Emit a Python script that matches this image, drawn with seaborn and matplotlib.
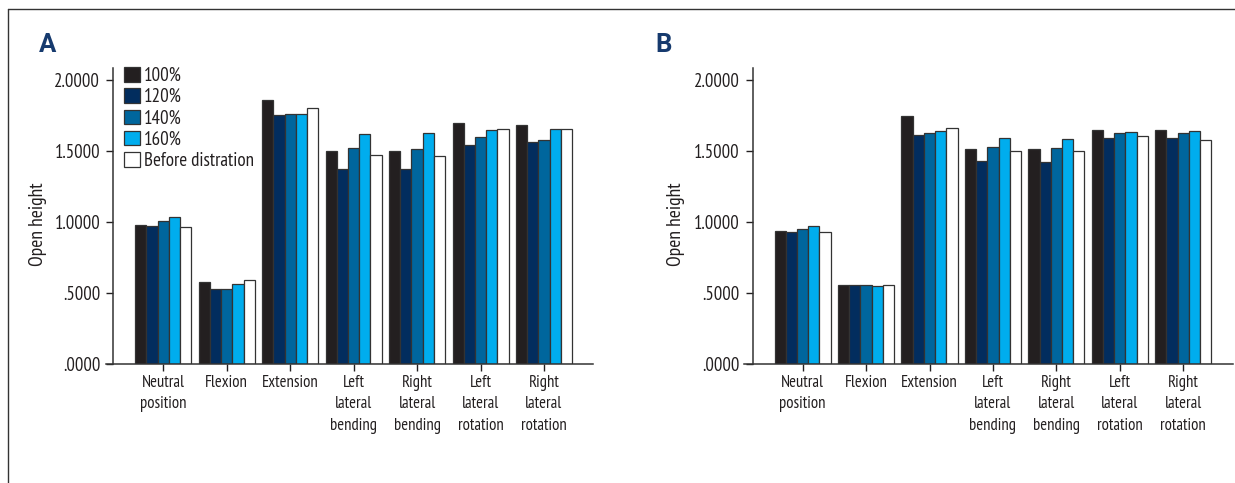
import matplotlib
matplotlib.use("Agg")
import matplotlib.pyplot as plt
import seaborn as sns
import pandas as pd
from matplotlib.lines import Line2D
from matplotlib import font_manager
from matplotlib.textpath import TextPath
from matplotlib.font_manager import FontProperties

categories = ["Neutral\nposition", "Flexion", "Extension", "Left\nlateral\nbending",
              "Right\nlateral\nbending", "Left\nlateral\nrotation", "Right\nlateral\nrotation"]
conditions = ["100%", "120%", "140%", "160%", "Before distration"]

values_a = {
    "100%":              [0.977, 0.577, 1.857, 1.498, 1.502, 1.697, 1.685],
    "120%":              [0.970, 0.530, 1.755, 1.371, 1.376, 1.544, 1.561],
    "140%":              [1.008, 0.530, 1.762, 1.519, 1.512, 1.596, 1.580],
    "160%":              [1.038, 0.567, 1.762, 1.622, 1.624, 1.646, 1.655],
    "Before distration": [0.963, 0.595, 1.800, 1.472, 1.463, 1.655, 1.655],
}
values_b = {
    "100%":              [0.937, 0.556, 1.749, 1.514, 1.514, 1.650, 1.650],
    "120%":              [0.932, 0.556, 1.615, 1.427, 1.423, 1.591, 1.591],
    "140%":              [0.949, 0.556, 1.627, 1.526, 1.521, 1.627, 1.627],
    "160%":              [0.973, 0.549, 1.643, 1.594, 1.587, 1.634, 1.641],
    "Before distration": [0.932, 0.560, 1.660, 1.500, 1.502, 1.608, 1.580],
}
yticks = [0.0, 0.5, 1.0, 1.5, 2.0]
ytick_labels = [".0000", ".5000", "1.0000", "1.5000", "2.0000"]

palette = ["#231f20", "#022d5e", "#00669d", "#00adee", "#ffffff"]

sns.set_theme(style="white")
names = {f.name for f in font_manager.fontManager.ttflist}
fam = "DejaVu Sans"
for cand in ["PT Sans Narrow", "Roboto Condensed", "Fira Sans Condensed", "Open Sans Condensed",
             "Liberation Sans Narrow"]:
    if cand in names:
        fam = cand
        break
plt.rcParams["font.family"] = [fam, "DejaVu Sans"]
FP = FontProperties(family=fam)
PX = 100 / 72.0


def size_for_width(s, target_px):
    ext = TextPath((0, 0), s, size=10, prop=FP).get_extents()
    return 10 * target_px / (ext.width * PX)


fs_tick = size_for_width("1.5000", 43.3)
fs_cat = (size_for_width("Extension", 55) + size_for_width("Neutral", 41)) / 2
fs_ylab = size_for_width("Open height", 82)
fs_leg = size_for_width("Before distration", 107.5)

txt = "#231f20"
fig = plt.figure(figsize=(12.35, 4.83), dpi=100)
W, H = 1235, 483
TOP, BOT = 68.3, 364.3
renderer = fig.canvas.get_renderer()


def lp_metrics(size):
    w, h, d = renderer.get_text_width_height_descent("lp", FontProperties(family=fam, size=size),
                                                     ismath=False)
    return h, d


h_cat, d_cat = lp_metrics(fs_cat)
cat_linespacing = (21.5 - d_cat) / (h_cat - d_cat)


def make_df(vals):
    rows = []
    for c in conditions:
        for cat, v in zip(categories, vals[c]):
            rows.append({"category": cat, "value": v, "condition": c})
    return pd.DataFrame(rows)


def panel(left_px, right_px, x0_px, spine_px, label_px, vals, letter, letter_x, legend):
    step = 63.45
    ax = fig.add_axes([left_px / W, (H - BOT) / H, (right_px - left_px) / W, (BOT - TOP) / H])
    df = make_df(vals)
    sns.barplot(data=df, x="category", y="value", hue="condition", hue_order=conditions,
                order=categories, palette=palette, width=0.883, edgecolor="#333333",
                linewidth=0.9, ax=ax, legend=legend, saturation=1)
    for s in ["top", "right"]:
        ax.spines[s].set_visible(False)
    for s in ["left", "bottom"]:
        ax.spines[s].set_color("#333333")
        ax.spines[s].set_linewidth(1.1)
    ax.spines["left"].set_position(("data", (spine_px - x0_px) / step))
    ax.set_xlim((left_px - x0_px) / step, (right_px - x0_px) / step)
    ax.set_ylim(0, (BOT - TOP) / 142.15)
    ax.set_yticks(yticks)
    ax.set_yticklabels(ytick_labels)
    ax.tick_params(axis="x", labelsize=fs_cat, colors=txt, length=5.3, width=1, direction="out",
                   pad=2.3, bottom=True)
    ax.tick_params(axis="y", labelsize=fs_tick, length=5.2, width=1, direction="out", pad=4.2,
                   left=True, colors=txt)
    for lab in ax.get_xticklabels():
        lab.set_linespacing(cat_linespacing)
        lab.set_color(txt)
    ax.set_xlabel("")
    ax.set_ylabel("Open height", fontsize=fs_ylab, color=txt)
    ax.yaxis.set_label_coords((label_px - left_px) / (right_px - left_px), (BOT - 224) / (BOT - TOP))
    fig.text(letter_x / W, 1 - 52 / H, letter, fontsize=18.5, fontweight="bold", color="#163a6e",
             va="baseline", ha="left", family=["Roboto", "DejaVu Sans"])
    if legend:
        handles, labels = ax.get_legend_handles_labels()
        em = fs_leg * PX
        h_leg, d_leg = lp_metrics(fs_leg)
        hh = 15.3 / em
        lsp = (21.25 - max(h_leg, hh * em)) / em
        ax.legend(handles, labels, loc="upper left", bbox_to_anchor=(124.3 / W, 1 - 67.0 / H),
                  bbox_transform=fig.transFigure, frameon=False,
                  fontsize=fs_leg, handlelength=15.7 / em, handleheight=hh,
                  handletextpad=4.0 / em, labelspacing=lsp, borderpad=0, borderaxespad=0)
        for t in ax.get_legend().get_texts():
            t.set_color(txt)
    return ax


panel(106, 593.3, 163.3, 113.3, 47, values_a, "A", 39, True)
panel(744.3, 1232.7, 802.6, 752.7, 685, values_b, "B", 655, False)

fig.add_artist(Line2D([8.3 / W, 8.3 / W], [0, 1 - 9.3 / H], color="#333333", lw=1,
                      transform=fig.transFigure))
fig.add_artist(Line2D([8.3 / W, 1], [1 - 9.3 / H, 1 - 9.3 / H], color="#333333", lw=1,
                      transform=fig.transFigure))

fig.savefig("out.png", dpi=100)
